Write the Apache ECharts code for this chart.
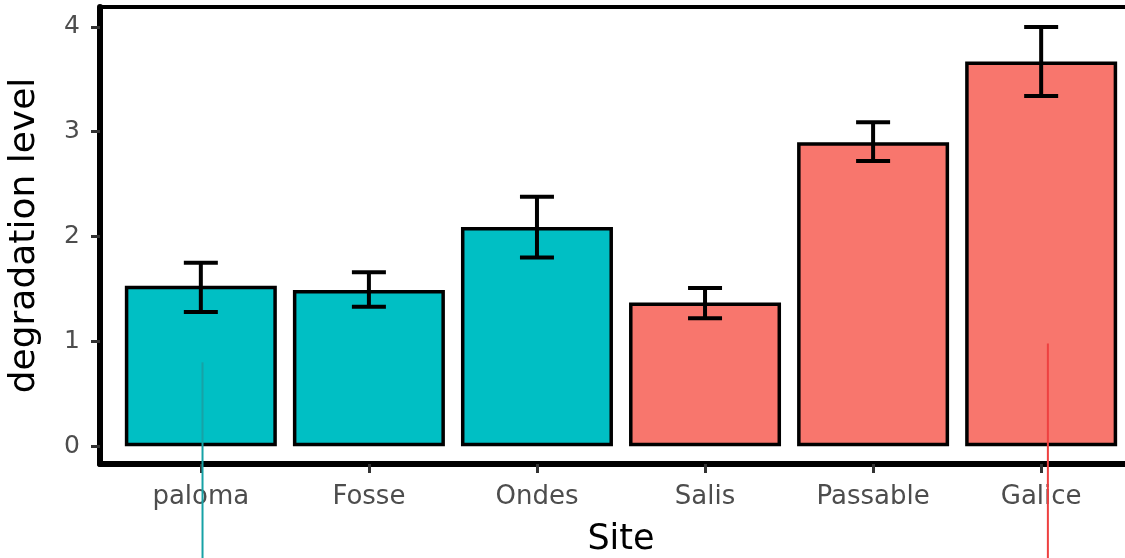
<!DOCTYPE html>
<html>
<head>
<meta charset="utf-8">
<script src="https://cdn.jsdelivr.net/npm/echarts@6/dist/echarts.min.js"></script>
<style>
html, body { margin: 0; padding: 0; background: #fff; }
#main { width: 1125px; height: 558px; }
</style>
</head>
<body>
<div id="main"></div>
<script>
// data
var sites = ['paloma', 'Fosse', 'Ondes', 'Salis', 'Passable', 'Galice'];
var groups = ['a', 'a', 'a', 'b', 'b', 'b'];
var means = [1.53, 1.49, 2.09, 1.37, 2.90, 3.67];
var lowErr = [1.28, 1.33, 1.80, 1.22, 2.72, 3.34];
var highErr = [1.75, 1.66, 2.38, 1.51, 3.09, 4.00];
var yTicks = [0, 1, 2, 3, 4];
// the two stray vertical lines: x position, top value, colour group
var guideX = [1.01, 6.04];
var guideTop = [0.80, 0.98];
var guideGroup = ['a', 'b'];

var groupColor = { a: '#00BFC4', b: '#F8766D' };
var guideColor = { a: '#17a2a6', b: '#ee4040' };
var font = 'DejaVu Sans, sans-serif';

var dom = document.getElementById('main');
var chart = echarts.init(dom);

var barData = [];
var errData = [];
var xPos = [];
for (var i = 0; i < sites.length; i++) {
    xPos.push(i + 1);
    barData.push({
        value: [i + 1, means[i]],
        itemStyle: { color: groupColor[groups[i]] }
    });
    errData.push([i + 1, lowErr[i], highErr[i]]);
}
var guideData = [];
for (var g = 0; g < guideX.length; g++) {
    guideData.push([guideX[g], guideTop[g], guideGroup[g]]);
}

var option = {
    backgroundColor: '#ffffff',
    animation: false,
    grid: {
        left: 100, width: 1042, top: 7, bottom: 94,
        outerBoundsMode: 'none',
        containLabel: false,
        show: true,
        borderColor: '#000',
        borderWidth: 4,
        backgroundColor: 'transparent'
    },
    xAxis: {
        type: 'value',
        min: 0.4,
        max: 6.6,
        name: 'Site',
        nameLocation: 'middle',
        nameGap: 58,
        nameTextStyle: { color: '#000', fontSize: 35, fontFamily: font },
        axisLine: { show: true, onZero: false, lineStyle: { color: '#000', width: 6 } },
        axisTick: { show: true, customValues: xPos, length: 9, lineStyle: { color: '#333', width: 3 } },
        axisLabel: {
            customValues: xPos,
            margin: 20,
            color: '#4d4d4d',
            fontSize: 26,
            fontFamily: font,
            formatter: function (v) { return sites[Math.round(v) - 1]; }
        },
        splitLine: { show: false }
    },
    yAxis: {
        type: 'value',
        min: -0.17,
        max: 4.19,
        name: 'degradation level',
        nameLocation: 'middle',
        nameGap: 57,
        nameTextStyle: { color: '#000', fontSize: 36, fontFamily: font },
        axisLine: { show: true, onZero: false, lineStyle: { color: '#000', width: 6 } },
        axisTick: { show: true, customValues: yTicks, length: 9, lineStyle: { color: '#333', width: 3 } },
        axisLabel: {
            customValues: yTicks,
            margin: 20,
            color: '#4d4d4d',
            fontSize: 25,
            fontFamily: font
        },
        splitLine: { show: false }
    },
    series: [
        {
            type: 'bar',
            data: barData,
            barWidth: 152,
            itemStyle: { borderColor: '#000', borderWidth: 3.5 }
        },
        {
            type: 'custom',
            data: errData,
            z: 5,
            renderItem: function (params, api) {
                var x = api.value(0);
                var lo = api.coord([x, api.value(1)]);
                var hi = api.coord([x, api.value(2)]);
                var hw = 17;
                var st = { stroke: '#000', lineWidth: 4 };
                return {
                    type: 'group',
                    children: [
                        { type: 'line', shape: { x1: lo[0], y1: lo[1], x2: hi[0], y2: hi[1] }, style: st },
                        { type: 'line', shape: { x1: lo[0] - hw, y1: lo[1], x2: lo[0] + hw, y2: lo[1] }, style: st },
                        { type: 'line', shape: { x1: hi[0] - hw, y1: hi[1], x2: hi[0] + hw, y2: hi[1] }, style: st }
                    ]
                };
            }
        },
        {
            type: 'custom',
            data: guideData,
            clip: false,
            z: 20,
            renderItem: function (params, api) {
                var x = api.value(0);
                var top = api.coord([x, api.value(1)]);
                var grp = guideData[params.dataIndex][2];
                return {
                    type: 'line',
                    shape: { x1: top[0], y1: top[1], x2: top[0], y2: 600 },
                    style: { stroke: guideColor[grp], lineWidth: 2 }
                };
            }
        }
    ]
};
chart.setOption(option);
</script>
</body>
</html>
